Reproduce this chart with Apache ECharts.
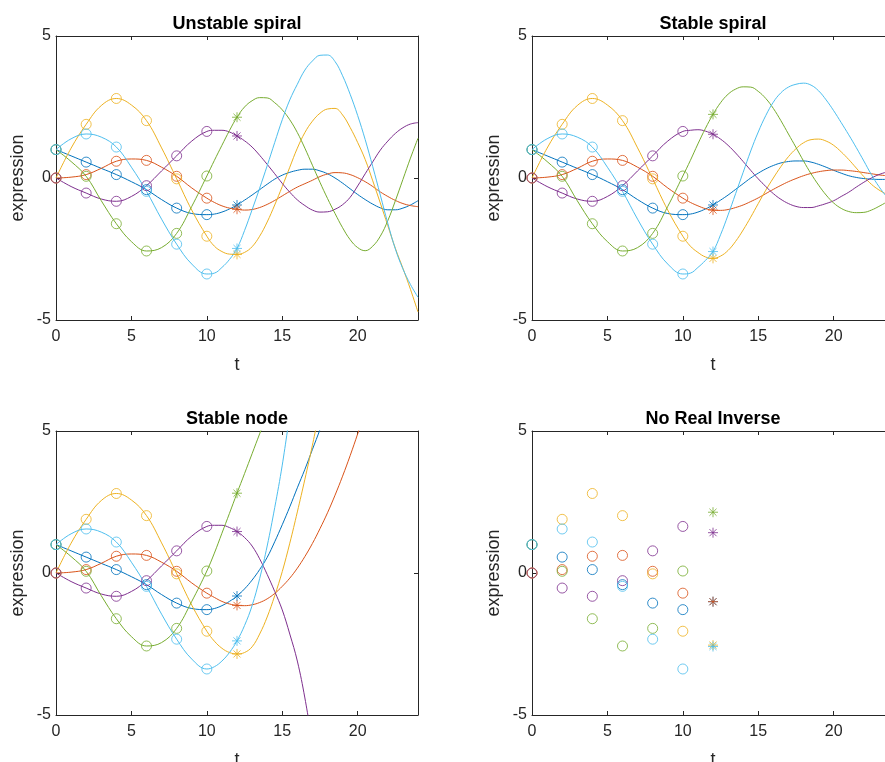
<!DOCTYPE html>
<html><head><meta charset="utf-8">
<script src="https://cdn.jsdelivr.net/npm/echarts@6/dist/echarts.min.js"></script>
<style>html,body{margin:0;padding:0;background:#fff}#c{width:885px;height:762px}</style>
</head><body><div id="c"></div>
<script>
// ---------- data ----------
const tValues = [0,1,2,3,4,5,6,7,8,9,10,10.5,11,11.5,12,12.5,13,13.5,14,14.5,15,15.5,16,16.5,17,17.5,18,18.5,19,19.5,20,20.5,21,21.5,22,22.5,23,23.5,24];
const obsT = [0,2,4,6,8,10];
const predT = 12;
const panelTitles = ['Unstable spiral','Stable spiral','Stable node','No Real Inverse'];
const xTicks = [0,5,10,15,20];
const yTicks = [-5,0,5];

// observed (circles), order: blue, orange, yellow, purple, green, cyan
const obsBlue   = [1.0, 0.56, 0.12, -0.41, -1.06, -1.29];
const obsOrange = [0, 0.12, 0.59, 0.62, 0.06, -0.71];
const obsYellow = [0, 1.89, 2.8, 2.02, -0.03, -2.05];
const obsPurple = [0, -0.53, -0.82, -0.27, 0.78, 1.64];
const obsGreen  = [1.0, 0.06, -1.61, -2.57, -1.95, 0.07];
const obsCyan   = [1.0, 1.55, 1.09, -0.47, -2.33, -3.38];

// predictions at t=12 (asterisks) per panel
const unstablePred  = [-0.95, -1.10, -2.69, 1.48, 2.14, -2.48];
const spiralPred    = [-0.95, -1.13, -2.83, 1.54, 2.24, -2.59];
const nodePred      = [-0.81, -1.14, -2.85, 1.46, 2.81, -2.39];
const noInversePred = [-1.01, -1.01, -2.54, 1.42, 2.14, -2.59];

// model curves sampled at tValues
const unstableBlue   = [1.0,0.78,0.56,0.34,0.12,-0.13,-0.41,-0.76,-1.06,-1.25,-1.29, -1.27,-1.2,-1.09,-0.95,-0.78,-0.6,-0.41,-0.22,-0.04,0.1,0.2,0.27,0.31,0.31,0.25,0.15,0.0,-0.18,-0.38,-0.58,-0.76,-0.92,-1.05,-1.12,-1.12,-1.06,-0.95,-0.8];
const unstableOrange = [0,0.03,0.12,0.34,0.59,0.67,0.62,0.38,0.06,-0.35,-0.71, -0.86,-0.98,-1.06,-1.10,-1.13,-1.11,-1.04,-0.93,-0.79,-0.63,-0.47,-0.32,-0.2,-0.08,0.05,0.14,0.19,0.18,0.12,0.01,-0.13,-0.3,-0.49,-0.65,-0.79,-0.9,-0.97,-1.01];
const unstableYellow = [0,1.05,1.89,2.55,2.8,2.57,2.02,1.06,-0.03,-1.13,-2.05, -2.4,-2.59,-2.68,-2.69,-2.62,-2.42,-2.05,-1.55,-0.95,-0.3,0.38,1.05,1.6,2.0,2.28,2.43,2.45,2.22,1.78,1.25,0.65,-0.1,-0.88,-1.68,-2.48,-3.18,-3.92,-4.72];
const unstablePurple = [0,-0.3,-0.53,-0.74,-0.82,-0.65,-0.27,0.25,0.78,1.3,1.64, 1.68,1.68,1.62,1.48,1.31,1.09,0.8,0.48,0.15,-0.19,-0.5,-0.77,-0.97,-1.13,-1.2,-1.19,-1.1,-0.94,-0.68,-0.28,0.15,0.57,0.98,1.3,1.57,1.77,1.9,1.95];
const unstableGreen  = [1.0,0.58,0.06,-0.8,-1.61,-2.24,-2.57,-2.45,-1.95,-1.0,0.07, 0.62,1.15,1.67,2.14,2.5,2.72,2.83,2.82,2.65,2.4,2.05,1.6,1.05,0.45,-0.15,-0.72,-1.25,-1.75,-2.17,-2.45,-2.56,-2.4,-2.05,-1.5,-0.8,-0.05,0.7,1.4];
const unstableCyan   = [1.0,1.38,1.55,1.44,1.09,0.38,-0.47,-1.45,-2.33,-3.03,-3.38, -3.35,-3.15,-2.87,-2.48,-1.85,-1.12,-0.36,0.43,1.25,2.05,2.75,3.3,3.8,4.12,4.32,4.33,4.1,3.6,2.95,2.2,1.35,0.4,-0.6,-1.6,-2.5,-3.2,-3.75,-4.2];

const spiralBlue   = [1.0,0.78,0.56,0.34,0.12,-0.13,-0.41,-0.76,-1.06,-1.25,-1.29, -1.27,-1.2,-1.09,-0.95,-0.78,-0.6,-0.4,-0.2,0.0,0.17,0.32,0.44,0.53,0.58,0.6,0.6,0.56,0.48,0.38,0.27,0.17,0.08,0.02,-0.02,-0.04,-0.05,-0.05,-0.04];
const spiralOrange = [0,0.03,0.12,0.34,0.59,0.67,0.62,0.38,0.06,-0.35,-0.71, -0.86,-0.98,-1.08,-1.13,-1.14,-1.11,-1.04,-0.95,-0.83,-0.7,-0.55,-0.4,-0.26,-0.13,-0.02,0.08,0.16,0.22,0.26,0.28,0.28,0.26,0.23,0.19,0.15,0.11,0.08,0.05];
const spiralYellow = [0,1.05,1.89,2.55,2.8,2.57,2.02,1.06,-0.03,-1.13,-2.05, -2.4,-2.62,-2.78,-2.83,-2.75,-2.55,-2.23,-1.83,-1.38,-0.9,-0.43,0.0,0.4,0.75,1.03,1.24,1.35,1.37,1.3,1.15,0.92,0.65,0.35,0.05,-0.22,-0.42,-0.57,-0.68];
const spiralPurple = [0,-0.3,-0.53,-0.74,-0.82,-0.65,-0.27,0.25,0.78,1.3,1.64, 1.68,1.7,1.65,1.54,1.37,1.15,0.88,0.58,0.27,-0.03,-0.3,-0.55,-0.75,-0.9,-1.0,-1.04,-1.04,-0.98,-0.9,-0.8,-0.65,-0.5,-0.32,-0.15,0.0,0.12,0.21,0.3];
const spiralGreen  = [1.0,0.58,0.06,-0.8,-1.61,-2.24,-2.57,-2.45,-1.95,-1.0,0.07, 0.62,1.2,1.75,2.24,2.65,2.95,3.13,3.21,3.2,3.05,2.8,2.45,2.02,1.55,1.08,0.6,0.15,-0.25,-0.6,-0.88,-1.07,-1.18,-1.22,-1.21,-1.13,-1.0,-0.85,-0.68];
const spiralCyan   = [1.0,1.38,1.55,1.44,1.09,0.38,-0.47,-1.45,-2.33,-3.03,-3.38, -3.35,-3.15,-2.9,-2.59,-2.0,-1.3,-0.55,0.2,0.95,1.62,2.2,2.67,3.0,3.2,3.3,3.34,3.27,3.07,2.75,2.37,1.95,1.52,1.07,0.6,0.12,-0.3,-0.65,-0.95];

const nodeBlue   = [1.0,0.78,0.56,0.34,0.12,-0.13,-0.41,-0.76,-1.06,-1.25,-1.29, -1.25,-1.15,-1.0,-0.81,-0.56,-0.25,0.12,0.55,1.1,1.7,2.33,3.0,3.65,4.35,5.05,5.8];
const nodeOrange = [0,0.03,0.12,0.34,0.59,0.67,0.62,0.38,0.06,-0.35,-0.71, -0.86,-1.0,-1.09,-1.14,-1.15,-1.12,-1.04,-0.91,-0.72,-0.47,-0.18,0.17,0.58,1.04,1.56,2.12,2.74,3.41,4.13,4.9,5.72];
const nodeYellow = [0,1.05,1.89,2.55,2.8,2.57,2.02,1.06,-0.03,-1.13,-2.05, -2.4,-2.65,-2.8,-2.85,-2.8,-2.6,-2.15,-1.55,-0.8,0.05,1.05,2.15,3.3,4.5,5.8];
const nodePurple = [0,-0.3,-0.53,-0.74,-0.82,-0.65,-0.27,0.25,0.78,1.3,1.64, 1.68,1.68,1.6,1.46,1.25,0.95,0.5,-0.05,-0.65,-1.3,-2.15,-3.1,-4.4,-6.0];
const nodeGreen  = [1.0,0.58,0.06,-0.8,-1.61,-2.24,-2.57,-2.45,-1.95,-1.0,0.07, 0.7,1.4,2.1,2.81,3.5,4.2,4.9,5.6];
const nodeCyan   = [1.0,1.38,1.55,1.44,1.09,0.38,-0.47,-1.45,-2.33,-3.03,-3.38, -3.3,-3.1,-2.8,-2.39,-1.85,-1.15,-0.2,0.95,2.3,3.8,5.6];

// ---------- build ----------
const colors = ['#0072BD','#D95319','#EDB120','#7E2F8E','#77AC30','#4DBEEE'];
const obsAll = [obsBlue, obsOrange, obsYellow, obsPurple, obsGreen, obsCyan];
const curves = [
  [unstableBlue, unstableOrange, unstableYellow, unstablePurple, unstableGreen, unstableCyan],
  [spiralBlue, spiralOrange, spiralYellow, spiralPurple, spiralGreen, spiralCyan],
  [nodeBlue, nodeOrange, nodeYellow, nodePurple, nodeGreen, nodeCyan],
  null
];
const preds = [unstablePred, spiralPred, nodePred, noInversePred];

const FONT = '"Liberation Sans", Arial, Helvetica, sans-serif';
const AX = '#262626';
const grids = [
  {left:56, top:36, width:362, height:284, outerBoundsMode:'none', containLabel:false},
  {left:532, top:36, width:362, height:284, outerBoundsMode:'none', containLabel:false},
  {left:56, top:431, width:362, height:284, outerBoundsMode:'none', containLabel:false},
  {left:532, top:431, width:362, height:284, outerBoundsMode:'none', containLabel:false}
];
const STAR = 'path://M0,-10L0,10M-10,0L10,0M-7.07,-7.07L7.07,7.07M-7.07,7.07L7.07,-7.07';

const xAxis = [], yAxis = [], series = [], graphic = [];
grids.forEach((g, gi) => {
  const base = {gridIndex: gi, type:'value', min:0, max:24, interval:5,
    splitLine:{show:false},
    axisLine:{show:true, onZero:false, lineStyle:{color:AX, width:1}},
    axisTick:{show:true, inside:true, length:4, lineStyle:{color:AX, width:1}}};
  xAxis.push(Object.assign({}, base, {position:'bottom',
    axisLabel:{show:true, color:AX, fontSize:16, fontFamily:FONT, margin:9, showMaxLabel:false,
      formatter: v => (xTicks.indexOf(v) >= 0 ? String(v) : '')},
    name:'t', nameLocation:'middle', nameGap:36,
    nameTextStyle:{fontSize:18, color:AX, fontFamily:FONT}}));
  xAxis.push(Object.assign({}, base, {position:'top', axisLabel:{show:false}}));
  const ybase = {gridIndex: gi, type:'value', min:-5, max:5, interval:5,
    splitLine:{show:false},
    axisLine:{show:true, onZero:false, lineStyle:{color:AX, width:1}},
    axisTick:{show:true, inside:true, length:4, lineStyle:{color:AX, width:1}}};
  yAxis.push(Object.assign({}, ybase, {position:'left',
    axisLabel:{show:true, color:AX, fontSize:16, fontFamily:FONT, margin:5,
      formatter: v => (yTicks.indexOf(v) >= 0 ? String(v) : '')},
    name:'expression', nameLocation:'middle', nameGap:29,
    nameTextStyle:{fontSize:18, color:AX, fontFamily:FONT}}));
  yAxis.push(Object.assign({}, ybase, {position:'right', axisLabel:{show:false}}));

  graphic.push({type:'text', x: g.left + g.width/2, y: g.top - 12, silent:true,
    style:{text: panelTitles[gi], fill:'#000', font:'bold 18px ' + FONT, textAlign:'center', textVerticalAlign:'middle'}});

  const xi = gi*2, yi = gi*2;
  colors.forEach((c, ci) => {
    if (curves[gi]) {
      const ys = curves[gi][ci];
      series.push({type:'line', xAxisIndex:xi, yAxisIndex:yi, smooth:0.4, showSymbol:false, symbol:'none',
        clip:true, silent:true, lineStyle:{color:c, width:1}, z:2,
        data: ys.map((v, k) => [tValues[k], v])});
    }
    series.push({type:'scatter', xAxisIndex:xi, yAxisIndex:yi, symbol:'circle', symbolSize:10, silent:true, z:3,
      itemStyle:{color:'rgba(0,0,0,0)', borderColor:c, borderWidth:1},
      data: obsAll[ci].map((v, k) => [obsT[k], v])});
    series.push({type:'scatter', xAxisIndex:xi, yAxisIndex:yi, symbol:STAR, symbolSize:10, silent:true, z:3,
      itemStyle:{color:'rgba(0,0,0,0)', borderColor:c, borderWidth:1},
      data: [[predT, preds[gi][ci]]]});
  });
});

const chart = echarts.init(document.getElementById('c'), null, {renderer:'canvas'});
chart.setOption({animation:false, backgroundColor:'#fff', grid:grids, xAxis, yAxis, series, graphic});
</script>
</body></html>
